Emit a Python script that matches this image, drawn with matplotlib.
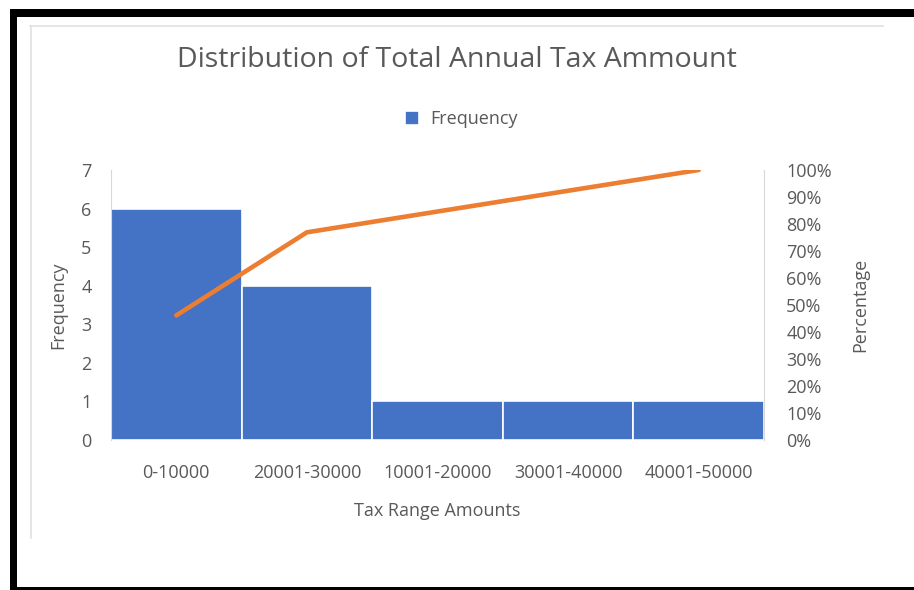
import matplotlib.pyplot as plt
from matplotlib.patches import Rectangle
from matplotlib.lines import Line2D

categories = ['0-10000', '20001-30000', '10001-20000', '30001-40000', '40001-50000']
frequency = [6, 4, 1, 1, 1]
cumulative_pct = [46.15, 76.92, 84.62, 92.31, 100.0]

BLUE = '#4472C4'
ORANGE = '#ED7D31'
TEXT = '#595959'
GRID = '#D9D9D9'

plt.rcParams['font.family'] = ['Open Sans', 'DejaVu Sans']

W, H = 914, 590
fig = plt.figure(figsize=(W / 100, H / 100), dpi=100)


def px(x0, y0, x1, y1):
    # pixel box -> figure fraction rectangle
    return (x0 / W, 1 - y1 / H), (x1 - x0) / W, (y1 - y0) / H


# black frame and light inner border of the screenshot
for box in [(10, 9, 914, 17), (10, 9, 17, 590), (10, 587, 914, 590)]:
    xy, w, h = px(*box)
    fig.patches.append(Rectangle(xy, w, h, transform=fig.transFigure,
                                 facecolor='black', edgecolor='none'))
fig.lines.append(Line2D([30 / W, 883 / W], [1 - 26 / H, 1 - 26 / H],
                        transform=fig.transFigure, color='#E0E0E0', lw=1.2))
fig.lines.append(Line2D([31 / W, 31 / W], [1 - 26 / H, 1 - 538 / H],
                        transform=fig.transFigure, color='#E0E0E0', lw=1.2))

FS = 13

ax = fig.add_axes([111 / W, 1 - 440 / H, (764 - 111) / W, (440 - 170) / H])
x = range(len(categories))
bars = ax.bar(x, frequency, width=1.0, color=BLUE, edgecolor='white',
              linewidth=1.2, label='Frequency')
ax.set_xlim(-0.5, len(categories) - 0.5)
ax.set_ylim(0, 7)
ax.set_yticks(range(0, 8))
ax.set_xticks(list(x))
ax.set_xticklabels(categories)
ax.tick_params(length=0, colors=TEXT, labelsize=FS)
ax.tick_params(axis='x', pad=17)
ax.tick_params(axis='y', pad=14)
for s in ['top', 'right', 'bottom']:
    ax.spines[s].set_visible(False)
ax.spines['left'].set_color(GRID)
ax.set_ylabel('Frequency', color=TEXT, fontsize=FS, labelpad=10)
ax.set_xlabel('Tax Range Amounts', color=TEXT, fontsize=FS, labelpad=15)

ax2 = ax.twinx()
ax2.plot(list(x), cumulative_pct, color=ORANGE, lw=3.3, solid_capstyle='round')
ax2.set_ylim(0, 100)
ax2.set_yticks(range(0, 101, 10))
ax2.set_yticklabels([f'{v}%' for v in range(0, 101, 10)])
ax2.tick_params(length=0, colors=TEXT, labelsize=FS, pad=16)
for s in ['top', 'left', 'bottom']:
    ax2.spines[s].set_visible(False)
ax2.spines['right'].set_color(GRID)
ax2.set_ylabel('Percentage', color=TEXT, fontsize=FS, labelpad=14)

fig.text(457 / W, 1 - 60 / H, 'Distribution of Total Annual Tax Ammount',
         ha='center', va='center', color=TEXT, fontsize=20.5)
fig.legend(handles=[bars], loc='center', bbox_to_anchor=(461 / W, 1 - 119 / H),
           frameon=False, fontsize=FS, labelcolor=TEXT, handlelength=0.8,
           handleheight=0.8, handletextpad=0.6)

fig.savefig('out.png', dpi=100, facecolor='white')
